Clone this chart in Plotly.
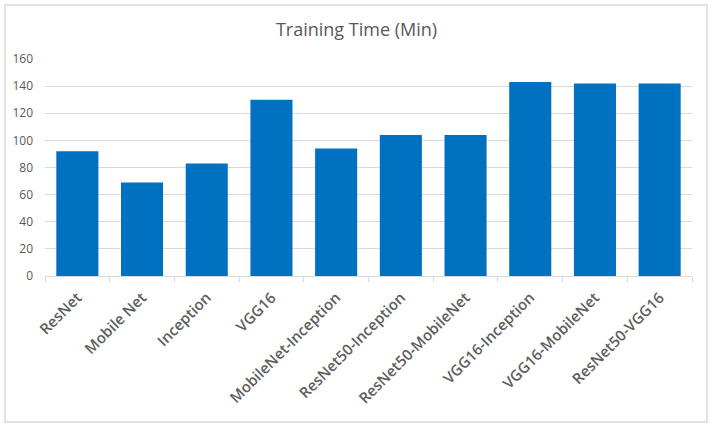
import plotly.graph_objects as go

categories = ["ResNet", "Mobile Net", "Inception", "VGG16", "MobileNet-Inception",
              "ResNet50-Inception", "ResNet50-MobileNet", "VGG16-Inception",
              "VGG16-MobileNet", "ResNet50-VGG16"]
training_time = [92, 69, 83, 130, 94, 104, 104, 143, 142, 142]
y_ticks = [0, 20, 40, 60, 80, 100, 120, 140, 160]

W, H = 713, 429
ml, mr, mt, mb = 45, 21, 59, 153
pw, ph = W - ml - mr, H - mt - mb

def px_x(x):
    return (x - ml) / pw

def px_y(y):
    return (H - mb - y) / ph

fig = go.Figure(go.Bar(
    x=categories, y=training_time,
    marker=dict(color="#0070C0", line=dict(width=0)),
))

fig.update_layout(
    width=W, height=H,
    margin=dict(l=ml, r=mr, t=mt, b=mb, autoexpand=False),
    paper_bgcolor="white", plot_bgcolor="white",
    bargap=0.35,
    showlegend=False,
    font=dict(family="Open Sans, Liberation Sans, sans-serif", color="#595959"),
    title=dict(text="Training Time (Min)", x=0.5, xanchor="center",
               y=1 - 30 / H, yanchor="middle",
               font=dict(size=18, color="#595959")),
    xaxis=dict(
        tickangle=-45, tickfont=dict(size=15, color="#5e5e5e", weight=600),
        showline=True, linecolor="#d9d9d9", linewidth=1,
        ticks="outside", tickson="boundaries", ticklen=5, tickcolor="#d9d9d9",
        showgrid=False, automargin=False, ticklabelstandoff=6,
    ),
    yaxis=dict(
        range=[0, 160], tickvals=y_ticks,
        tickfont=dict(size=12, color="#595959"),
        showgrid=True, gridcolor="#d9d9d9", gridwidth=1,
        zeroline=False, showline=False, ticks="", ticklabelstandoff=11,
        automargin=False,
    ),
    shapes=[dict(type="rect", xref="paper", yref="paper",
                 x0=px_x(5), x1=px_x(707), y0=px_y(422), y1=px_y(5),
                 line=dict(color="#d9d9d9", width=1.5), layer="below")],
)

fig.write_html("out.html",
               config={"displayModeBar": False},
               post_script="document.body.style.margin='0';document.body.style.padding='0';")
